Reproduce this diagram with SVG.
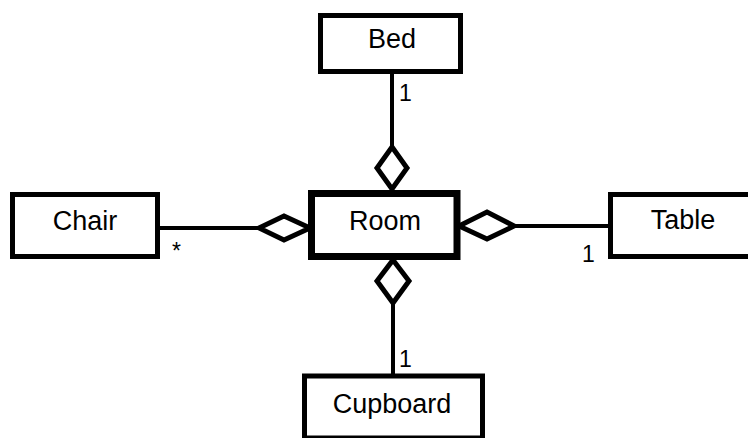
<svg xmlns="http://www.w3.org/2000/svg" width="748" height="438" viewBox="0 0 748 438">
<style>
.box{fill:#fff;stroke:#000;stroke-width:5}
.main{fill:#fff;stroke:#000;stroke-width:7}
.name{font-family:"Liberation Sans",Arial,sans-serif;font-size:27px;text-anchor:middle;fill:#000}
.lbl{font-family:"Liberation Sans",Arial,sans-serif;font-size:23px;fill:#000}
.line{stroke:#000;stroke-width:4;fill:none}
.dia{fill:#fff;stroke:#000;stroke-width:5}
</style>
<rect width="748" height="438" fill="#fff"/>
<g id="connectors">
<line class="line" x1="392" y1="72" x2="392" y2="148"/>
<polygon class="dia" points="392,147 407,168 392,189 377,168"/>
<line class="line" x1="393" y1="300" x2="393" y2="376"/>
<polygon class="dia" points="393,260 409,281 393,303 377,281"/>
<line class="line" x1="158" y1="228" x2="260" y2="228"/>
<polygon class="dia" points="259,228 284,216 310,228 284,240"/>
<line class="line" x1="512" y1="226" x2="611" y2="226"/>
<polygon class="dia" points="459,226 487,212 514,226 487,239"/>
<text class="lbl" x="399" y="101">1</text>
<text class="lbl" x="399" y="367">1</text>
<text class="lbl" x="582" y="262">1</text>
<text class="lbl" x="172" y="259">*</text>
</g>
<g id="bed">
<rect class="box" x="320.5" y="15.5" width="140" height="56"/>
<text class="name" x="392" y="48">Bed</text>
</g>
<g id="room">
<rect class="main" x="311.5" y="193.5" width="145.5" height="63"/>
<text class="name" x="385" y="230">Room</text>
</g>
<g id="chair">
<rect class="box" x="12.5" y="194.5" width="145" height="62"/>
<text class="name" x="85" y="230">Chair</text>
</g>
<g id="table">
<rect class="box" x="610.5" y="194.5" width="145" height="62"/>
<text class="name" x="683" y="229">Table</text>
</g>
<g id="cupboard">
<rect class="box" x="304.5" y="376" width="178" height="62"/>
<text class="name" x="392" y="413">Cupboard</text>
</g>
</svg>
